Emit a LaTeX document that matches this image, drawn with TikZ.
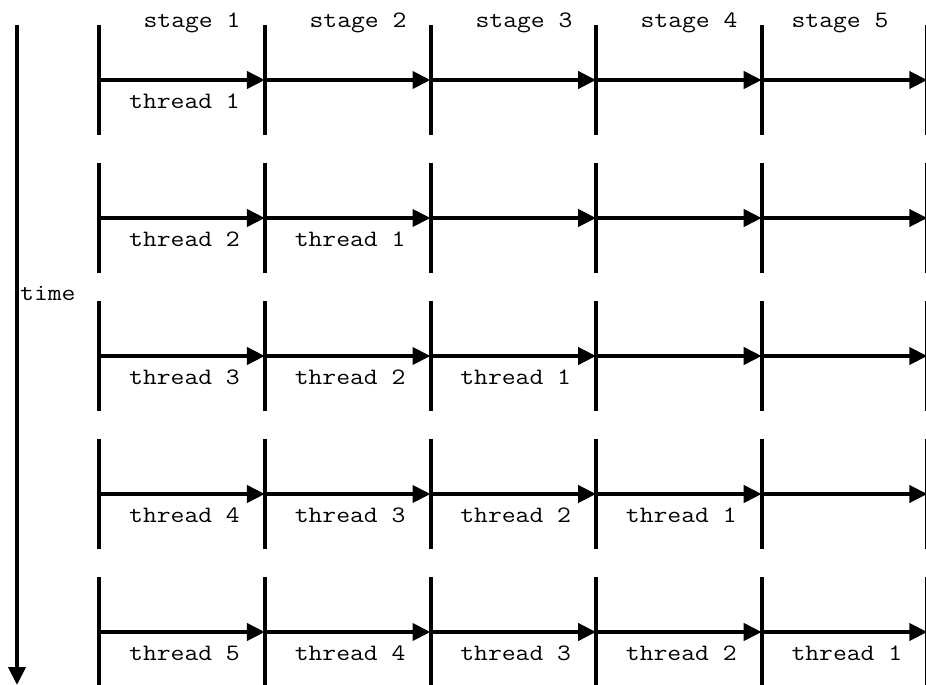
\documentclass[tikz,border=0pt]{standalone}
\usepackage{fontspec}
\newfontfamily\courfont[FakeStretch=1.143]{Latin Modern Mono}
\usetikzlibrary{arrows.meta}
\begin{document}
\begin{tikzpicture}[x=1pt,y=-1pt,
  bar/.style={line width=4pt},
  flow/.style={line width=4pt,-{Triangle[length=18pt,width=17pt]}},
  lbl/.style={font=\courfont\fontsize{23.5}{28}\selectfont, inner sep=0pt, anchor=base}]
\useasboundingbox (0,0) rectangle (926,685);
% time axis
\coordinate (t0) at (17,25);
\coordinate (t1) at (17,685);
\draw[flow] (t0) -- (t1);
\node[lbl, anchor=base west] (time) at (20,300) {time};
% stage labels
\node[lbl] (s1) at (192,28) {stage 1};
\node[lbl] (s2) at (358,28) {stage 2};
\node[lbl] (s3) at (524,28) {stage 3};
\node[lbl] (s4) at (689,28) {stage 4};
\node[lbl] (s5) at (840,28) {stage 5};
% rows
\foreach \r in {1,...,5}{
  \pgfmathsetmacro{\yy}{80+138*(\r-1)}
  \foreach \c in {0,...,5}{
    \pgfmathsetmacro{\xx}{99.3+165.6*\c}
    \coordinate (p-\r-\c) at (\xx,\yy);
    \draw[bar] ([yshift=55pt]p-\r-\c) -- ([yshift=-55pt]p-\r-\c);
  }
  \foreach \c [evaluate=\c as \n using int(\c+1)] in {0,...,4}{
    \draw[flow] (p-\r-\c) -- (p-\r-\n);
  }
  \foreach \c in {1,...,\r}{
    \pgfmathsetmacro{\xx}{184.5+165.6*(\c-1)}
    \pgfmathtruncatemacro{\th}{\r-\c+1}
    \node[lbl] (th-\r-\c) at (\xx,\yy+28) {thread \th};
  }
}
\end{tikzpicture}
\end{document}
